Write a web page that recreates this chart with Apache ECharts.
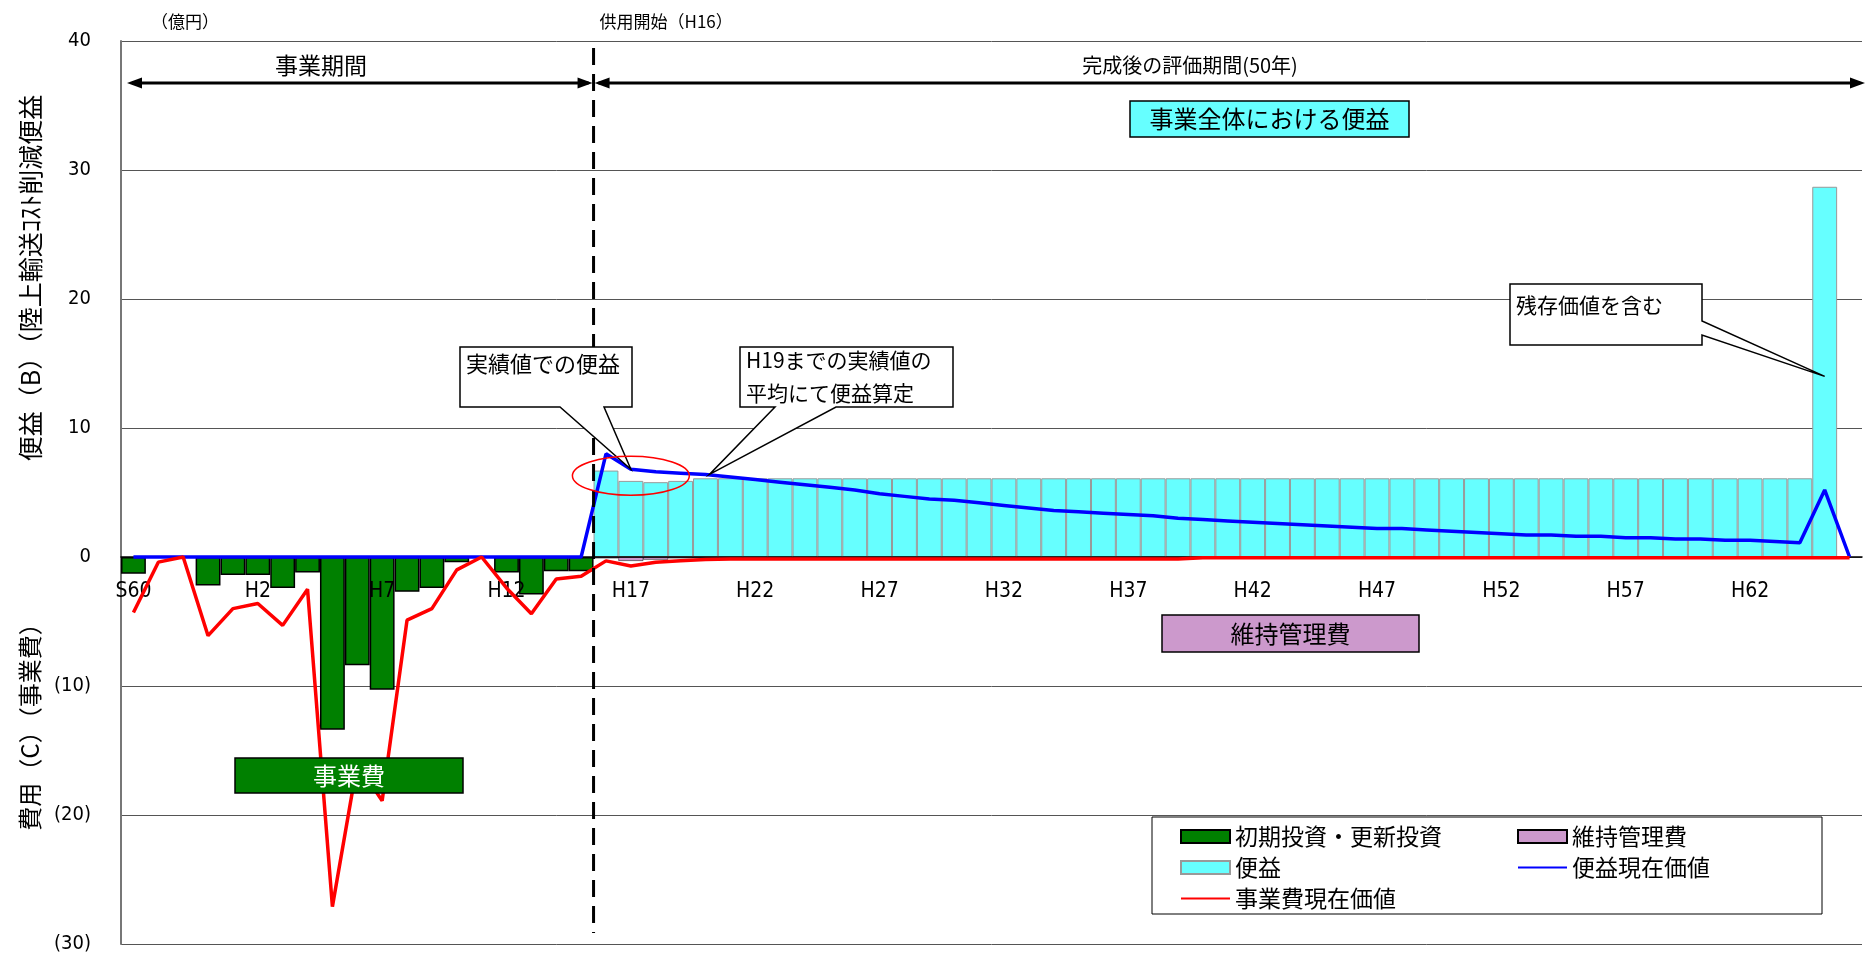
<!DOCTYPE html>
<html lang="ja">
<head>
<meta charset="utf-8">
<title>費用便益</title>
<script src="https://cdn.jsdelivr.net/npm/echarts@6.0.0/dist/echarts.min.js"></script>
<style>
  html, body { margin: 0; padding: 0; background: #fff; }
  #chart { width: 1867px; height: 955px; }
</style>
</head>
<body>
<div id="chart"></div>
<script>
// 年度 (S60 - H66)
const years = [
  "S60", "S61", "S62", "S63",
  "H1", "H2", "H3", "H4", "H5", "H6", "H7", "H8", "H9", "H10",
  "H11", "H12", "H13", "H14", "H15", "H16", "H17", "H18", "H19", "H20",
  "H21", "H22", "H23", "H24", "H25", "H26", "H27", "H28", "H29", "H30",
  "H31", "H32", "H33", "H34", "H35", "H36", "H37", "H38", "H39", "H40",
  "H41", "H42", "H43", "H44", "H45", "H46", "H47", "H48", "H49", "H50",
  "H51", "H52", "H53", "H54", "H55", "H56", "H57", "H58", "H59", "H60",
  "H61", "H62", "H63", "H64", "H65", "H66",
];

// 供用開始 H16 = index 19
const OPEN_INDEX = 19;

// y range (億円)
const Y_MIN = -30;
const Y_MAX = 40;

// 初期投資・更新投資 (S60 - H15)
const investment = [
  -1.3, null, null, -2.2, -1.4, -1.4, -2.4, -1.2, -13.4, -8.4,
  -10.3, -2.7, -2.4, -0.4, null, -1.2, -2.9, -1.1, -1.1,
];

// 維持管理費 (H16 - H65)
const maintenance = [
  -0.1, -0.3, -0.2, -0.1, -0.1, -0.1, -0.1, -0.1, -0.1, -0.1,
  -0.1, -0.1, -0.1, -0.1, -0.1, -0.1, -0.1, -0.1, -0.1, -0.1,
  -0.1, -0.1, -0.1, -0.1, -0.1, -0.1, -0.1, -0.1, -0.1, -0.1,
  -0.1, -0.1, -0.1, -0.1, -0.1, -0.1, -0.1, -0.1, -0.1, -0.1,
  -0.1, -0.1, -0.1, -0.1, -0.1, -0.1, -0.1, -0.1, -0.1, -0.1,
];

// 便益 (H16 - H65)
const benefit = [
  6.7, 5.9, 5.8, 5.9, 6.1, 6.1, 6.1, 6.1, 6.1, 6.1,
  6.1, 6.1, 6.1, 6.1, 6.1, 6.1, 6.1, 6.1, 6.1, 6.1,
  6.1, 6.1, 6.1, 6.1, 6.1, 6.1, 6.1, 6.1, 6.1, 6.1,
  6.1, 6.1, 6.1, 6.1, 6.1, 6.1, 6.1, 6.1, 6.1, 6.1,
  6.1, 6.1, 6.1, 6.1, 6.1, 6.1, 6.1, 6.1, 6.1, 28.7,
];

// 便益現在価値 (S60 - H66)
const benefitPV = [
  0, 0, 0, 0, 0, 0, 0, 0, 0, 0,
  0, 0, 0, 0, 0, 0, 0, 0, 0, 8.0,
  6.8, 6.6, 6.5, 6.4, 6.2, 6.0, 5.8, 5.6, 5.4, 5.2,
  4.9, 4.7, 4.5, 4.4, 4.2, 4.0, 3.8, 3.6, 3.5, 3.4,
  3.3, 3.2, 3.0, 2.9, 2.8, 2.7, 2.6, 2.5, 2.4, 2.3,
  2.2, 2.2, 2.1, 2.0, 1.9, 1.8, 1.7, 1.7, 1.6, 1.6,
  1.5, 1.5, 1.4, 1.4, 1.3, 1.3, 1.2, 1.1, 5.2, 0,
];

// 事業費現在価値 (S60 - H66)
const costPV = [
  -4.3, -0.4, 0, -6.1, -4.0, -3.6, -5.3, -2.5, -27.1, -16.0,
  -18.9, -4.9, -4.0, -1.0, 0, -2.4, -4.4, -1.7, -1.5, -0.3,
  -0.7, -0.4, -0.3, -0.2, -0.15, -0.15, -0.15, -0.15, -0.15, -0.15,
  -0.15, -0.15, -0.15, -0.15, -0.15, -0.15, -0.15, -0.15, -0.15, -0.15,
  -0.15, -0.15, -0.15, -0.05, -0.05, -0.05, -0.05, -0.05, -0.05, -0.05,
  -0.05, -0.05, -0.05, -0.05, -0.05, -0.05, -0.05, -0.05, -0.05, -0.05,
  -0.05, -0.05, -0.05, -0.05, -0.05, -0.05, -0.05, -0.05, -0.05, -0.05,
];

const NUM_FONT = "'Liberation Sans Narrow', 'DejaVu Sans Condensed', 'Liberation Sans', sans-serif";
const JP_FONT = "'Noto Sans CJK JP', sans-serif";

const GRID = { left: 121, right: 5, top: 41, bottom: 11 };
const gridH = 955 - GRID.top - GRID.bottom;
// category axis sits on the zero line
const zeroOffset = -gridH * (0 - Y_MIN) / (Y_MAX - Y_MIN);

// place a short array at a year offset in the full range
const placeAt = (start, arr) =>
  years.map((_, i) => (i >= start && i < start + arr.length ? arr[i - start] : null));

const chart = echarts.init(document.getElementById("chart"));

const legendBase = {
  orient: "vertical",
  top: 825,
  padding: 0,
  itemWidth: 49,
  itemHeight: 13,
  itemGap: 8,
  textStyle: { fontFamily: JP_FONT, fontSize: 23, lineHeight: 23, color: "#000" },
};

chart.setOption({
  animation: false,
  grid: { ...GRID, containLabel: false, outerBoundsMode: "none" },
  legend: [
    {
      ...legendBase,
      left: 1180,
      data: [
        { name: "初期投資・更新投資", icon: "rect" },
        { name: "便益", icon: "rect" },
        { name: "事業費現在価値", itemStyle: { opacity: 0 } },
      ],
    },
    {
      ...legendBase,
      left: 1517,
      data: [
        { name: "維持管理費", icon: "rect" },
        { name: "便益現在価値", itemStyle: { opacity: 0 } },
      ],
    },
  ],
  xAxis: {
    type: "category",
    data: years,
    offset: zeroOffset,
    z: 5,
    axisLine: { onZero: false, lineStyle: { color: "#000", width: 1.5 } },
    axisTick: { show: false },
    axisLabel: {
      interval: 4,
      margin: 24,
      fontFamily: NUM_FONT,
      fontSize: 21,
      color: "#000",
    },
    splitLine: { show: false },
  },
  yAxis: {
    type: "value",
    min: Y_MIN,
    max: Y_MAX,
    interval: 10,
    axisLine: { show: true, lineStyle: { color: "#777", width: 2 } },
    axisTick: { show: false },
    axisLabel: {
      margin: 30,
      fontFamily: NUM_FONT,
      fontSize: 20,
      color: "#000",
      formatter: (v) => (v < 0 ? "(" + -v + ")" : String(v)),
    },
    splitLine: { lineStyle: { color: "#555", width: 1 } },
  },
  series: [
    {
      name: "初期投資・更新投資",
      type: "bar",
      z: 1,
      stack: "total",
      barCategoryGap: "0%",
      data: placeAt(0, investment),
      itemStyle: { color: "#008000", borderColor: "#000", borderWidth: 1.5 },
    },
    {
      name: "維持管理費",
      type: "bar",
      z: 1,
      stack: "total",
      barCategoryGap: "0%",
      data: placeAt(OPEN_INDEX, maintenance),
      itemStyle: { color: "#cc99cc", borderColor: "#000", borderWidth: 0.5 },
    },
    {
      name: "便益",
      type: "bar",
      z: 1,
      stack: "total",
      barCategoryGap: "0%",
      data: placeAt(OPEN_INDEX, benefit),
      itemStyle: { color: "#66ffff", borderColor: "#999", borderWidth: 1 },
    },
    {
      name: "便益現在価値",
      type: "line",
      z: 8,
      symbol: "none",
      data: benefitPV,
      lineStyle: { color: "#0000ff", width: 3.5 },
      itemStyle: { color: "#0000ff" },
    },
    {
      name: "事業費現在価値",
      type: "line",
      z: 9,
      symbol: "none",
      data: costPV,
      lineStyle: { color: "#ff0000", width: 3.5 },
      itemStyle: { color: "#ff0000" },
    },
  ],
});

// ---- annotations (positions taken from the axes where they refer to data) ----
const pt = (i, v) => chart.convertToPixel({ xAxisIndex: 0, yAxisIndex: 0 }, [i, v]);
const x0 = pt(0, 0)[0];
const band = pt(1, 0)[0] - x0;
const openX = x0 + band * (OPEN_INDEX - 0.5);

const txt = (x, y, text, size, opts = {}) => ({
  type: "text",
  x,
  y,
  z: 120,
  rotation: opts.rotation || 0,
  style: {
    text,
    fill: opts.fill || "#000",
    fontFamily: opts.font || JP_FONT,
    fontSize: size,
    align: opts.align || "left",
    verticalAlign: "middle",
  },
});

const box = (x, y, w, h, fill) => ({
  type: "rect",
  z: 110,
  shape: { x, y, width: w, height: h },
  style: { fill, stroke: "#000", lineWidth: 1.5 },
});

const head = (tipX, y, dir) => ({
  type: "polygon",
  z: 100,
  shape: { points: [[tipX, y], [tipX - dir * 15, y - 5.5], [tipX - dir * 15, y + 5.5]] },
  style: { fill: "#000" },
});

const arrowY = 83;
const leftEnd = 127;
const rightEnd = 1865;

const tipA = pt(20, benefitPV[20]);
const tipB = pt(23, benefitPV[23]);
const tipC = pt(68, 14);
const ellC = [pt(20, 0)[0], pt(20, 6.3)[1]];

const calloutDown = (L, T, R, B, b1, b2, tip) => ({
  type: "polygon",
  z: 110,
  shape: { points: [[L, T], [R, T], [R, B], [b2, B], tip, [b1, B], [L, B]] },
  style: { fill: "#fff", stroke: "#000", lineWidth: 1.5 },
});

const calloutRight = (L, T, R, B, y1, y2, tip) => ({
  type: "polygon",
  z: 110,
  shape: { points: [[L, T], [R, T], [R, y1], tip, [R, y2], [R, B], [L, B]] },
  style: { fill: "#fff", stroke: "#000", lineWidth: 1.5 },
});

chart.setOption({
  graphic: [
    // unit and opening label
    txt(151, 22, "（億円）", 17),
    txt(openX + 6, 22, "供用開始（H16）", 17),

    // opening line
    {
      type: "line",
      z: 100,
      shape: { x1: openX, y1: 48, x2: openX, y2: 933 },
      style: { stroke: "#000", lineWidth: 3, lineDash: [17, 9] },
    },

    // period arrows
    {
      type: "line",
      z: 100,
      shape: { x1: leftEnd + 5, y1: arrowY, x2: openX - 5, y2: arrowY },
      style: { stroke: "#000", lineWidth: 3 },
    },
    head(leftEnd, arrowY, -1),
    head(openX - 1, arrowY, 1),
    {
      type: "line",
      z: 100,
      shape: { x1: openX + 5, y1: arrowY, x2: rightEnd - 5, y2: arrowY },
      style: { stroke: "#000", lineWidth: 3 },
    },
    head(openX + 1, arrowY, -1),
    head(rightEnd, arrowY, 1),
    txt(321, 65, "事業期間", 23, { align: "center" }),
    txt(1190, 65, "完成後の評価期間(50年)", 20, { align: "center" }),

    // labelled boxes
    box(1130, 101, 279, 36, "#66ffff"),
    txt(1269.5, 119, "事業全体における便益", 24, { align: "center" }),
    box(1162, 615, 257, 37, "#cc99cc"),
    txt(1290.5, 633.5, "維持管理費", 24, { align: "center" }),
    box(235, 758, 228, 35, "#008000"),
    txt(349, 775.5, "事業費", 24, { align: "center", fill: "#fff" }),

    // callouts
    calloutDown(460, 347, 632, 407, 560, 604, tipA),
    txt(466, 364, "実績値での便益", 22),
    calloutDown(740, 347, 953, 407, 775, 836, [tipB[0] + 4, tipB[1]]),
    txt(746, 360, "H19までの実績値の", 21),
    txt(746, 393, "平均にて便益算定", 21),
    calloutRight(1510, 284, 1702, 345, 321, 335, tipC),
    txt(1516, 305, "残存価値を含む", 21),

    // highlight ellipse
    {
      type: "ellipse",
      z: 115,
      shape: { cx: ellC[0], cy: ellC[1], rx: band * 2.35, ry: 19.5 },
      style: { fill: null, stroke: "#ff0000", lineWidth: 1.5 },
    },

    // axis names
    txt(30, 278, "便益（B）（陸上輸送ｺｽﾄ削減便益", 25, { align: "center", rotation: Math.PI / 2 }),
    txt(30, 721, "費用（C）（事業費）", 24, { align: "center", rotation: Math.PI / 2 }),

    // legend frame
    {
      type: "rect",
      z: -10,
      shape: { x: 1152, y: 817, width: 670, height: 97 },
      style: { fill: "#fff", stroke: "#000", lineWidth: 1 },
    },
  ],
});
</script>
</body>
</html>
